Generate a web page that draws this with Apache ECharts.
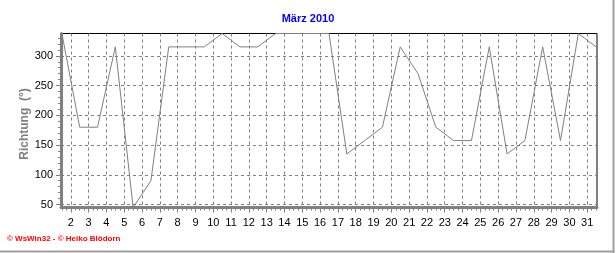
<!DOCTYPE html>
<html>
<head>
<meta charset="utf-8">
<script src="https://cdn.jsdelivr.net/npm/echarts@6/dist/echarts.min.js"></script>
<style>
html,body{margin:0;padding:0;background:#fff;}
#c{width:616px;height:253px;}
</style>
</head>
<body>
<div id="c"></div>
<script>
// ---- data ----
const title = 'März 2010';
const yName = 'Richtung  (°)';
const footer = '© WsWin32 - © Heiko Blödorn';
const days = [1,2,3,4,5,6,7,8,9,10,11,12,13,14,15,16,17,18,19,20,21,22,23,24,25,26,27,28,29,30,31];
const richtung = [337.5,180,180,315,45,90,315,315,315,337.5,315,315,337.5,337.5,337.5,337.5,
                  135,157.5,180,315,270,180,157.5,157.5,315,135,157.5,315,157.5,337.5,315];
const xTickLabels = [2,3,4,5,6,7,8,9,10,11,12,13,14,15,16,17,18,19,20,21,22,23,24,25,26,27,28,29,30,31];
const yTickLabels = [50,100,150,200,250,300];
const yMin = 45, yMax = 337.5;

// ---- derived ----
const seriesData = days.map((d, i) => [d + 0.5, richtung[i]]);
const xMinor = [];
for (let d = 1; d <= 32; d++) { for (let q = 1; q < 4; q++) xMinor.push(d + q / 4); }
const yMinor = [];
for (let v = 50; v <= 330; v += 10) { if (v % 50 !== 0) yMinor.push(v); }

const FONT = 'Liberation Sans';
const xMin = 1.45, xMax = 31.55;

const chart = echarts.init(document.getElementById('c'), null, {renderer: 'canvas'});
chart.setOption({
  animation: false,
  backgroundColor: '#fff',
  grid: {left: 61, top: 33.5, width: 536, height: 174, show: true, borderColor: '#000', borderWidth: 1, backgroundColor: 'transparent'},
  xAxis: [{
    type: 'value', min: xMin, max: xMax, position: 'bottom',
    axisLine: {onZero: false, lineStyle: {color: '#808080', width: 3}},
    axisTick: {show: true, length: 5, lineStyle: {color: '#808080'}, customValues: xTickLabels},
    axisLabel: {customValues: xTickLabels, fontFamily: FONT, fontSize: 11, color: '#000', margin: 10},
    splitLine: {show: true, lineStyle: {color: '#808080', type: [3, 3], width: 1}}
  }, {
    type: 'value', min: xMin, max: xMax, position: 'bottom',
    axisLine: {show: false, onZero: false},
    axisTick: {show: true, length: 3, lineStyle: {color: '#808080'}, customValues: xMinor.filter(v => v > xMin && v < xMax)},
    axisLabel: {show: false},
    splitLine: {show: false}
  }],
  yAxis: [{
    type: 'value', min: yMin, max: yMax, position: 'left',
    axisLine: {show: true, onZero: false, lineStyle: {color: '#808080', width: 3}},
    axisTick: {show: true, length: 5, lineStyle: {color: '#808080'}, customValues: yTickLabels},
    axisLabel: {customValues: yTickLabels, fontFamily: FONT, fontSize: 11, color: '#000', margin: 8},
    splitLine: {show: true, lineStyle: {color: '#808080', type: [3, 3], width: 1}}
  }, {
    type: 'value', min: yMin, max: yMax, position: 'left',
    axisLine: {show: false, onZero: false},
    axisTick: {show: true, length: 3, lineStyle: {color: '#808080'}, customValues: yMinor},
    axisLabel: {show: false},
    splitLine: {show: false}
  }],
  series: [{
    type: 'line', xAxisIndex: 0, yAxisIndex: 0,
    data: seriesData, showSymbol: false, symbol: 'none', clip: false, z: 10,
    lineStyle: {color: '#808080', width: 1}
  }],
  graphic: [
    {type: 'text', left: 'center', top: 13, style: {text: title, fill: '#0000ff', font: 'bold 11px "Liberation Sans"'}},
    {type: 'text', x: 25, y: 124, rotation: Math.PI / 2,
     style: {text: yName, fill: '#808080', font: 'bold 12px "Liberation Sans"', align: 'center', verticalAlign: 'middle'}},
    {type: 'text', x: 7, y: 239, style: {text: footer, fill: '#ff0000', font: 'bold 8px "Liberation Sans"', verticalAlign: 'middle'}},
    {type: 'line', shape: {x1: 613.5, y1: 0, x2: 613.5, y2: 253}, style: {stroke: '#a0a0a0', lineWidth: 2}},
    {type: 'line', shape: {x1: 0, y1: 251.5, x2: 614.5, y2: 251.5}, style: {stroke: '#a0a0a0', lineWidth: 2}}
  ]
});
</script>
</body>
</html>
